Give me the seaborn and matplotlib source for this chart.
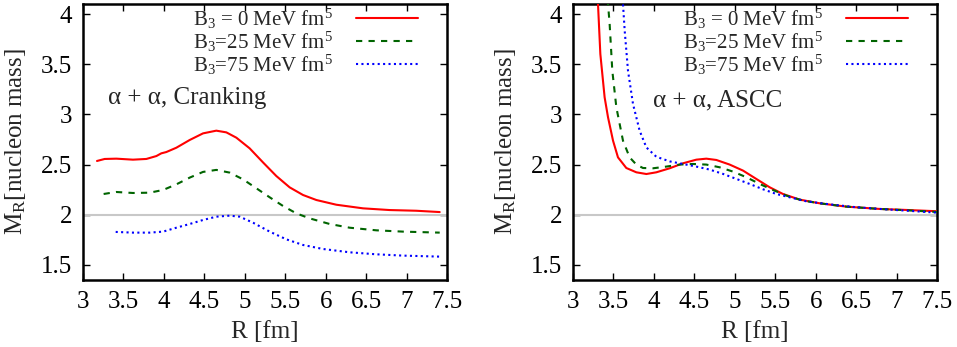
import numpy as np
import pandas as pd
import matplotlib
matplotlib.use("Agg")
import matplotlib.pyplot as plt
import seaborn as sns

# ---- data ----
crank_r0 = [3.173, 3.268, 3.412, 3.618, 3.783, 3.907, 3.968, 4.03, 4.154, 4.319, 4.484, 4.648, 4.772, 4.896,
            5.06, 5.225, 5.39, 5.555, 5.72, 5.885, 6.132, 6.462, 6.79, 7.12, 7.41]
crank_m0 = [2.536, 2.556, 2.559, 2.549, 2.556, 2.585, 2.612, 2.625, 2.668, 2.745, 2.811, 2.838, 2.821, 2.768,
            2.662, 2.522, 2.386, 2.273, 2.197, 2.147, 2.10, 2.064, 2.047, 2.04, 2.027]
crank_r25 = [3.255, 3.41, 3.618, 3.824, 3.99, 4.154, 4.319, 4.484, 4.648, 4.813, 4.978, 5.143, 5.308, 5.472,
             5.637, 5.802, 6.05, 6.297, 6.626, 6.956, 7.41]
crank_m25 = [2.207, 2.227, 2.217, 2.22, 2.247, 2.303, 2.37, 2.427, 2.447, 2.42, 2.353, 2.264, 2.174, 2.088,
             2.014, 1.964, 1.908, 1.871, 1.845, 1.832, 1.822]
crank_r75 = [3.404, 3.618, 3.824, 3.99, 4.154, 4.319, 4.484, 4.648, 4.813, 4.937, 5.102, 5.308, 5.514, 5.72,
             5.967, 6.297, 6.626, 6.956, 7.41]
crank_m75 = [1.829, 1.822, 1.822, 1.832, 1.871, 1.908, 1.948, 1.981, 1.991, 1.981, 1.921, 1.832, 1.755, 1.699,
             1.659, 1.626, 1.606, 1.593, 1.583]

ascc_r0 = [3.30, 3.309, 3.338, 3.391, 3.433, 3.495, 3.556, 3.659, 3.783, 3.907, 4.03, 4.195, 4.36, 4.525, 4.648,
           4.772, 4.937, 5.102, 5.266, 5.431, 5.596, 5.802, 6.05, 6.379, 6.791, 7.12, 7.5]
ascc_m0 = [4.5, 4.1, 3.602, 3.17, 2.971, 2.738, 2.572, 2.466, 2.423, 2.406, 2.423, 2.463, 2.513, 2.549, 2.559,
           2.546, 2.50, 2.44, 2.357, 2.274, 2.207, 2.151, 2.114, 2.081, 2.058, 2.048, 2.035]
ascc_r25 = [3.425, 3.433, 3.453, 3.486, 3.536, 3.618, 3.70, 3.783, 3.865, 3.989, 4.154, 4.319, 4.484, 4.648,
            4.813, 4.978, 5.143, 5.308, 5.472, 5.637, 5.843, 6.05, 6.379, 6.791, 7.12, 7.5]
ascc_m25 = [4.5, 4.1, 3.9, 3.435, 3.07, 2.738, 2.572, 2.50, 2.466, 2.463, 2.48, 2.50, 2.506, 2.50,
            2.473, 2.43, 2.374, 2.307, 2.247, 2.191, 2.141, 2.114, 2.081, 2.058, 2.045, 2.028]
ascc_r75 = [3.61, 3.618, 3.639, 3.68, 3.742, 3.824, 3.907, 4.03, 4.195, 4.36, 4.525, 4.69, 4.855, 5.02, 5.184,
            5.349, 5.514, 5.679, 5.885, 6.132, 6.462, 6.791, 7.12, 7.5]
ascc_m75 = [4.5, 4.1, 3.834, 3.435, 3.103, 2.837, 2.671, 2.578, 2.532, 2.506, 2.48, 2.45, 2.407, 2.357, 2.307,
            2.254, 2.207, 2.174, 2.134, 2.108, 2.078, 2.058, 2.041, 2.021]

labels = ["B$_3$ = 0 MeV fm$^5$", "B$_3$=25 MeV fm$^5$", "B$_3$=75 MeV fm$^5$"]
panel_titles = ["\u03b1 + \u03b1, Cranking", "\u03b1 + \u03b1, ASCC"]
xticks = [3, 3.5, 4, 4.5, 5, 5.5, 6, 6.5, 7, 7.5]
yticks = [1.5, 2, 2.5, 3, 3.5, 4]

sns.set_style("ticks")
plt.rcParams["font.family"] = ["Liberation Serif", "DejaVu Serif"]
plt.rcParams["mathtext.fontset"] = "custom"
plt.rcParams["mathtext.rm"] = "Liberation Serif"
plt.rcParams["mathtext.it"] = "Liberation Serif:italic"
plt.rcParams["mathtext.bf"] = "Liberation Serif:bold"

FS = 18
LFS = 15
colors = ["#ff0000", "#006400", "#0000ff"]
dashes = [None, (3, 3), (1, 1.6)]

fig = plt.figure(figsize=(9.57, 3.47), dpi=100)
W, H = 957, 347
axL = fig.add_axes([83 / W, (H - 280) / H, 364 / W, 276 / H])
axR = fig.add_axes([573 / W, (H - 280) / H, 364 / W, 276 / H])

panels = [
    (axL, [(crank_r0, crank_m0), (crank_r25, crank_m25), (crank_r75, crank_m75)], 0.068, 0.66),
    (axR, [(ascc_r0, ascc_m0), (ascc_r25, ascc_m25), (ascc_r75, ascc_m75)], 0.22, 0.65),
]

for i, (ax, series, tx, ty) in enumerate(panels):
    ax.axhline(2.0, color="#c8c8c8", lw=1.5, zorder=1)
    for j, (r, m) in enumerate(series):
        df = pd.DataFrame({"R": r, "M": m})
        sns.lineplot(data=df, x="R", y="M", ax=ax, color=colors[j], lw=1.5,
                     label=labels[j], sort=False, zorder=3)
        line = ax.get_lines()[-1]
        if dashes[j] is not None:
            line.set_dashes(dashes[j])
    ax.set_xlim(3, 7.5)
    ax.set_ylim(1.35, 4.1)
    ax.set_xticks(xticks)
    ax.set_xticklabels([f"{t:g}" for t in xticks])
    ax.set_yticks(yticks)
    ax.set_yticklabels([f"{t:g}" for t in yticks])
    ax.tick_params(direction="in", length=5, width=1, top=True, right=True,
                   labelsize=FS, colors="black")
    ax.tick_params(axis="x", pad=8)
    ax.tick_params(axis="y", pad=8)
    for s in ax.spines.values():
        s.set_linewidth(1.8)
        s.set_color("black")
    ax.set_xlabel("R [fm]", fontsize=FS, labelpad=6)
    ax.set_ylabel("M$_\\mathrm{R}$[nucleon mass]", fontsize=FS, labelpad=9)
    ax.text(tx, ty, panel_titles[i], transform=ax.transAxes, fontsize=FS,
            ha="left", va="center")
    leg = ax.legend(loc="upper right", bbox_to_anchor=(1 - 29 / 364, 1 - 2.6 / 276),
                    frameon=False, markerfirst=False,
                    fontsize=LFS, handlelength=3.0, labelspacing=-0.06,
                    borderpad=0.0, handletextpad=1.1, borderaxespad=0.0)
    for t in leg.get_texts():
        t.set_ha("right")

fig.savefig("out.png", dpi=100)
